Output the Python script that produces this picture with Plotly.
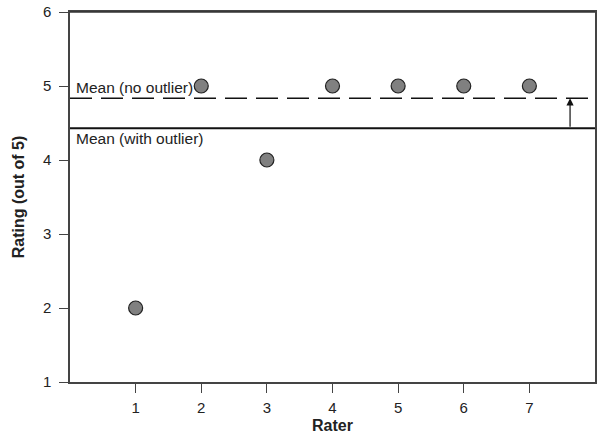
import plotly.graph_objects as go

raters = [1, 2, 3, 4, 5, 6, 7]
ratings = [2, 5, 4, 5, 5, 5, 5]
x_ticks = [1, 2, 3, 4, 5, 6, 7]
y_ticks = [1, 2, 3, 4, 5, 6]

mean_with = sum(ratings) / len(ratings)
no_out = [r for r in ratings if r != min(ratings)]
mean_without = sum(no_out) / len(no_out)

fig = go.Figure()
fig.add_trace(go.Scatter(
    x=raters, y=ratings, mode="markers",
    marker=dict(size=14, color="#808080", line=dict(color="#222222", width=1.2)),
    showlegend=False, cliponaxis=False, hoverinfo="skip",
))

fig.add_shape(type="line", xref="paper", x0=0, x1=1, yref="y", y0=mean_without, y1=mean_without,
              line=dict(color="#111111", width=1.5, dash="22px,9px"), layer="below")
fig.add_shape(type="line", xref="paper", x0=0, x1=1, yref="y", y0=mean_with, y1=mean_with,
              line=dict(color="#111111", width=2), layer="below")
# top frame line
fig.add_shape(type="line", xref="paper", x0=0, x1=1, yref="paper", y0=1, y1=1,
              line=dict(color="#333333", width=1.5), layer="above")

fig.add_annotation(x=7.62, y=mean_without, ax=7.62, ay=mean_with, xref="x", yref="y",
                   axref="x", ayref="y", showarrow=True, arrowhead=2, arrowsize=1.2,
                   arrowwidth=1.2, arrowcolor="#111111", text="", standoff=0)

fig.add_annotation(xref="paper", x=0.008, yref="y", y=mean_without, yanchor="bottom",
                   xanchor="left", text="Mean (no outlier)", showarrow=False, yshift=0,
                   font=dict(size=15.5, color="#222222"))
fig.add_annotation(xref="paper", x=0.008, yref="y", y=mean_with, yanchor="top",
                   xanchor="left", text="Mean (with outlier)", showarrow=False, yshift=0,
                   font=dict(size=15.5, color="#222222"))

fig.update_layout(
    width=597, height=442,
    margin=dict(l=70, r=2, t=12, b=60),
    paper_bgcolor="white", plot_bgcolor="white",
    font=dict(family="Liberation Sans, Arial, sans-serif", color="#222222", size=15),
)
fig.update_xaxes(
    range=[0, 8], tickvals=x_ticks, ticks="outside", ticklen=9, tickcolor="#444444",
    showline=True, linecolor="#444444", linewidth=1.5, mirror=True, showgrid=False,
    zeroline=False, tickfont=dict(size=15), automargin=False, ticklabelstandoff=2,
    ticklabeloverflow="allow",
    title=dict(text="<b>Rater</b>", font=dict(size=16), standoff=5),
)
fig.update_yaxes(
    range=[1, 6], tickvals=y_ticks, ticks="outside", ticklen=9, tickcolor="#444444",
    showline=True, linecolor="#444444", linewidth=1.5, mirror=True, showgrid=False,
    zeroline=False, tickfont=dict(size=15), automargin=False, ticklabelstandoff=5,
    ticklabeloverflow="allow",
    title=dict(text="<b>Rating (out of 5)</b>", font=dict(size=16), standoff=14),
)

fig.write_html("out.html", config={"displayModeBar": False},
               post_script="document.body.style.margin='0px';")
